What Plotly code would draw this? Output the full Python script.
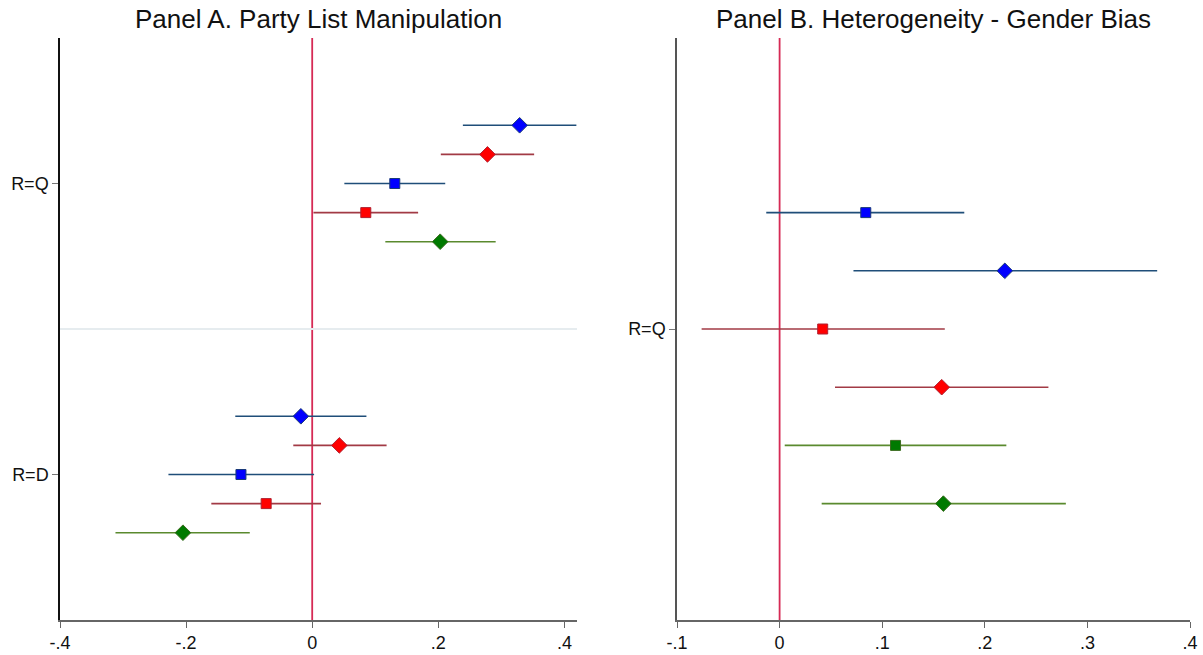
import plotly.graph_objects as go

# ---------------- Data ----------------
# Panel A: two outcome rows, five estimates each
panel_a_categories = ["R=Q", "R=D"]
panel_a_cat_pos = [10, 0]
panel_a_offsets = [2, 1, 0, -1, -2]
panel_a_series_names = ["Blue diamond", "Red diamond", "Blue square", "Red square", "Green diamond"]
panel_a_est_rq = [0.329, 0.278, 0.131, 0.085, 0.203]
panel_a_lo_rq = [0.239, 0.204, 0.051, 0.002, 0.116]
panel_a_hi_rq = [0.419, 0.352, 0.211, 0.168, 0.291]
panel_a_est_rd = [-0.018, 0.043, -0.113, -0.073, -0.205]
panel_a_lo_rd = [-0.122, -0.030, -0.228, -0.160, -0.312]
panel_a_hi_rd = [0.086, 0.118, 0.003, 0.014, -0.099]

# Panel B: one outcome row, six estimates
panel_b_categories = ["R=Q"]
panel_b_cat_pos = [5]
panel_b_offsets = [4, 2, 0, -2, -4, -6]
panel_b_series_names = ["Blue square", "Blue diamond", "Red square", "Red diamond", "Green square", "Green diamond"]
panel_b_est = [0.084, 0.2195, 0.042, 0.158, 0.113, 0.1596]
panel_b_lo = [-0.013, 0.072, -0.076, 0.054, 0.005, 0.041]
panel_b_hi = [0.180, 0.368, 0.161, 0.262, 0.221, 0.279]

# Styles
MARK = {"blue": "#0000ff", "red": "#ff0000", "green": "#007a00"}
EDGE = {"blue": "#1a3a7a", "red": "#b02030", "green": "#3b6b1f"}
LINE = {"blue": "#1f4e79", "red": "#a23a45", "green": "#5a8a2e"}
panel_a_styles = [("blue", "diamond"), ("red", "diamond"), ("blue", "square"), ("red", "square"), ("green", "diamond")]
panel_b_styles = [("blue", "square"), ("blue", "diamond"), ("red", "square"), ("red", "diamond"), ("green", "square"), ("green", "diamond")]

FONT = "Liberation Sans, Arial, sans-serif"
W, H = 1203, 655

fig = go.Figure()


def add_point(x, lo, hi, y, color, symbol, xaxis, yaxis, name):
    fig.add_trace(go.Scatter(
        x=[lo, hi], y=[y, y], mode="lines",
        line=dict(color=LINE[color], width=1.6),
        xaxis=xaxis, yaxis=yaxis, showlegend=False, hoverinfo="skip"))
    fig.add_trace(go.Scatter(
        x=[x], y=[y], mode="markers", name=name,
        marker=dict(symbol=symbol, color=MARK[color],
                    size=12 if symbol == "diamond" else 10,
                    line=dict(color=EDGE[color], width=1)),
        xaxis=xaxis, yaxis=yaxis, showlegend=False))


# Panel A
for est_l, lo_l, hi_l, base in [(panel_a_est_rq, panel_a_lo_rq, panel_a_hi_rq, panel_a_cat_pos[0]),
                                (panel_a_est_rd, panel_a_lo_rd, panel_a_hi_rd, panel_a_cat_pos[1])]:
    for i, (c, s) in enumerate(panel_a_styles):
        add_point(est_l[i], lo_l[i], hi_l[i], base + panel_a_offsets[i], c, s, "x", "y",
                  panel_a_series_names[i])

# Panel B
for i, (c, s) in enumerate(panel_b_styles):
    add_point(panel_b_est[i], panel_b_lo[i], panel_b_hi[i], panel_b_cat_pos[0] + panel_b_offsets[i],
              c, s, "x2", "y2", panel_b_series_names[i])

yd = [(H - 620) / H, (H - 38) / H]
xa_dom = [60 / W, 577 / W]
xb_dom = [677 / W, 1190 / W]

tickfont = dict(family=FONT, size=18, color="#111111")

fig.update_layout(
    width=W, height=H,
    margin=dict(l=0, r=0, t=0, b=0, autoexpand=False),
    paper_bgcolor="white", plot_bgcolor="white",
    font=dict(family=FONT),
    xaxis=dict(domain=xa_dom, range=[-0.4, 0.42], tickvals=[-0.4, -0.2, 0, 0.2, 0.4],
               ticktext=["-.4", "-.2", "0", ".2", ".4"], showgrid=False, zeroline=False,
               showline=True, linecolor="#666666", linewidth=1.5, ticks="outside",
               ticklen=6, tickcolor="#666666", tickfont=tickfont, anchor="y", automargin=False),
    yaxis=dict(domain=yd, range=[-5, 15], tickvals=panel_a_cat_pos, ticktext=panel_a_categories,
               showgrid=False, zeroline=False, showline=True, linecolor="#111111", linewidth=1.5,
               ticks="outside", ticklen=6, tickcolor="#777777", tickfont=tickfont, anchor="x",
               automargin=False),
    xaxis2=dict(domain=xb_dom, range=[-0.1, 0.4], tickvals=[-0.1, 0, 0.1, 0.2, 0.3, 0.4],
                ticktext=["-.1", "0", ".1", ".2", ".3", ".4"], showgrid=False, zeroline=False,
                showline=True, linecolor="#666666", linewidth=1.5, ticks="outside",
                ticklen=6, tickcolor="#666666", tickfont=tickfont, anchor="y2", automargin=False),
    yaxis2=dict(domain=yd, range=[-5, 15], tickvals=panel_b_cat_pos, ticktext=panel_b_categories,
                showgrid=False, zeroline=False, showline=True, linecolor="#555555", linewidth=1.5,
                ticks="outside", ticklen=6, tickcolor="#777777", tickfont=tickfont, anchor="x2",
                automargin=False),
    shapes=[
        dict(type="line", xref="x", yref="y", x0=-0.4, x1=0.42, y0=5, y1=5,
             line=dict(color="#e6ecef", width=2), layer="below"),
        dict(type="line", xref="x", yref="y domain", x0=0, x1=0, y0=0, y1=1,
             line=dict(color="#d62a55", width=1.8), layer="below"),
        dict(type="line", xref="x2", yref="y2 domain", x0=0, x1=0, y0=0, y1=1,
             line=dict(color="#d62a55", width=1.8), layer="below"),
    ],
    annotations=[
        dict(text="Panel A. Party List Manipulation", xref="paper", yref="paper",
             x=sum(xa_dom) / 2, y=1 - 19 / H, xanchor="center", yanchor="middle",
             showarrow=False, font=dict(family=FONT, size=26, color="#111111")),
        dict(text="Panel B. Heterogeneity - Gender Bias", xref="paper", yref="paper",
             x=sum(xb_dom) / 2, y=1 - 19 / H, xanchor="center", yanchor="middle",
             showarrow=False, font=dict(family=FONT, size=26, color="#111111")),
    ],
)

fig.write_html("out.html")
